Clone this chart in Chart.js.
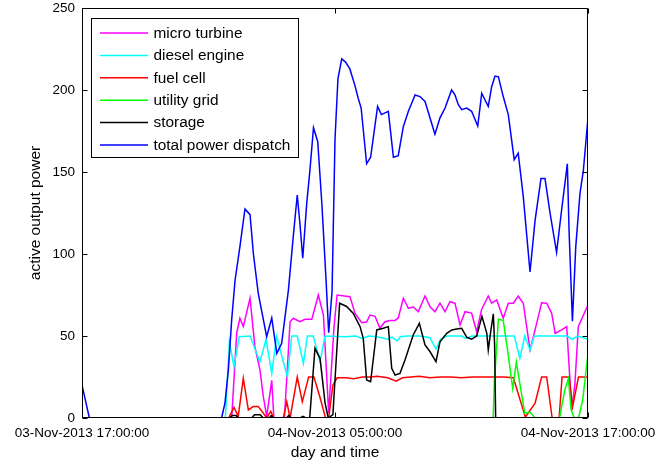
<!DOCTYPE html>
<html>
<head>
<meta charset="utf-8">
<script src="https://cdn.jsdelivr.net/npm/chart.js@4.4.1/dist/chart.umd.min.js"></script>
<style>
  html, body { margin: 0; padding: 0; background: #ffffff; }
  canvas { display: block; }
</style>
</head>
<body>
<canvas id="dispatch" width="663" height="468"></canvas>
<script>
// Hours after 03-Nov-2013 17:00:00 and their printed labels
const timeTicks = [0, 12, 24];
const timeTickLabels = ['03-Nov-2013 17:00:00', '04-Nov-2013 05:00:00', '04-Nov-2013 17:00:00'];
const powerTicks = [0, 50, 100, 150, 200, 250];

const seriesNames = ['micro turbine', 'diesel engine', 'fuel cell', 'utility grid', 'storage', 'total power dispatch'];
const seriesColors = ['#ff00ff', '#00ffff', '#ff0000', '#00ff00', '#000000', '#0000ff'];

// [hour, active output power]
const microTurbine = [
  [0, 0], [7.1, 0], [7.34, 52], [7.49, 60.8], [7.65, 55.7], [7.97, 73], [8.2, 43.5], [8.44, 29.3],
  [8.6, 13], [8.76, 1], [9.0, 23], [9.1, 0], [9.6, 0], [9.87, 58.7], [10.02, 60.8], [10.34, 58.7],
  [10.58, 60.2], [10.9, 60.2], [11.21, 75], [11.45, 62.8], [11.7, 3], [11.95, 55], [12.1, 75],
  [12.71, 74], [12.95, 63.8], [13.27, 58.1], [13.5, 58.5], [13.66, 62.8], [13.9, 62], [14.13, 54.7],
  [14.37, 58.7], [14.61, 59.5], [14.85, 59.5], [15.0, 61], [15.24, 73], [15.48, 66.9], [15.71, 67.8],
  [15.95, 64.8], [16.27, 74.4], [16.51, 67.8], [16.74, 64.8], [16.98, 70], [17.22, 64.8], [17.45, 70.9],
  [17.69, 70], [17.93, 56.7], [18.17, 64.8], [18.48, 64], [18.72, 52.6], [18.95, 66], [19.27, 74.4],
  [19.43, 70], [19.67, 72], [19.98, 60.8], [20.22, 70], [20.46, 70], [20.69, 74.4], [20.93, 70],
  [21.25, 41.5], [21.49, 53.7], [21.8, 70.3], [22.04, 70], [22.28, 63.8], [22.44, 51.6], [22.75, 53.7],
  [22.99, 55.7], [23.23, 4.9], [23.38, 21], [23.54, 55.7], [24, 69]
];

const dieselEngine = [
  [0, 0], [6.8, 0], [6.99, 46.5], [7.21, 31.3], [7.46, 49.6], [7.97, 50], [8.44, 34.3], [8.73, 48],
  [9.0, 27.2], [9.23, 49.6], [9.74, 25.2], [9.95, 50], [10.21, 50], [10.5, 33.3], [10.69, 50],
  [10.97, 50], [11.29, 34.3], [11.53, 50], [12.5, 49.5], [13.0, 50], [13.3, 48.5], [13.6, 50],
  [14.0, 49.5], [14.5, 48], [14.7, 49.5], [14.95, 47], [15.1, 49.5], [15.4, 50], [16.0, 50],
  [16.5, 49], [16.79, 42], [17.0, 48], [17.3, 50], [18.0, 50], [18.2, 48.5], [18.5, 50], [20.5, 50],
  [20.77, 36.4], [21.0, 50], [21.25, 41.5], [21.45, 50], [23.0, 50], [23.25, 48], [23.5, 50], [24, 48]
];

const fuelCell = [
  [0, 0], [6.95, 0], [7.21, 6.5], [7.41, 1], [7.65, 24.2], [7.89, 4.9], [8.12, 7], [8.36, 7],
  [8.6, 3], [8.76, 0], [8.95, 4], [9.1, 0], [9.55, 0], [9.71, 10], [9.87, 0], [10.21, 25],
  [10.45, 10], [10.75, 25], [11.0, 25], [11.3, 12], [11.55, 0], [11.7, 0], [11.9, 20], [12.1, 24.5],
  [12.5, 24.5], [12.9, 24], [13.3, 25], [13.7, 25], [14.0, 25.5], [14.5, 24.5], [14.9, 22.5],
  [15.2, 24.5], [15.6, 25], [16.0, 25.5], [16.5, 24.5], [17.0, 25], [17.5, 25], [18.0, 24.5],
  [18.5, 25], [19.0, 25], [19.5, 25], [20.0, 25], [20.46, 24.5], [21.03, 0.5], [21.49, 9],
  [21.8, 25], [22.04, 25], [22.3, 0], [22.63, 0], [22.77, 25], [23.1, 25], [23.27, 7], [23.55, 25], [24, 25]
];

const utilityGrid = [
  [0, 0], [19.5, 0], [19.56, 22], [19.75, 60.2], [19.98, 59.5], [20.2, 40], [20.43, 18], [20.6, 34],
  [21.0, 3], [21.25, 3.5], [21.5, 0], [22.65, 0], [22.9, 17], [23.07, 24], [23.2, 5], [23.35, 0],
  [23.55, 0], [23.75, 11], [24, 39.5]
];

const storage = [
  [0, 0], [7.0, 0], [7.12, 1.5], [7.3, 1.5], [7.45, 0], [8.05, 0], [8.18, 2], [8.45, 2], [8.6, 0],
  [8.88, 0], [8.97, 1.5], [9.08, 0], [9.7, 0], [9.8, 1.5], [9.92, 0], [10.35, 0], [10.48, 1],
  [10.62, 0], [10.8, 0], [11.05, 42.5], [11.29, 36.4], [11.53, 9], [11.68, 0], [11.9, 2], [12.22, 70],
  [12.55, 68], [12.87, 63.8], [13.19, 55.7], [13.34, 48.6], [13.5, 23.2], [13.69, 22.1], [13.98, 53.7],
  [14.29, 54.7], [14.53, 55.7], [14.69, 30.3], [14.85, 26.2], [15.08, 27.2], [15.32, 35.4], [15.71, 50.6],
  [16.0, 57.7], [16.27, 44.5], [16.51, 40.4], [16.79, 34.3], [16.98, 46.5], [17.3, 51.6], [17.54, 53.7],
  [17.77, 54.2], [18.01, 54.7], [18.25, 49.2], [18.48, 48], [18.72, 50], [18.97, 62], [19.2, 51.6],
  [19.27, 41.5], [19.4, 54], [19.51, 63.5], [19.57, 45], [19.62, 0], [24, 0]
];

const totalDispatch = [
  [0, 20], [0.35, 0], [6.62, 0], [6.78, 9], [6.94, 29], [7.1, 60], [7.26, 84], [7.49, 104.5],
  [7.73, 127.5], [7.97, 124], [8.13, 100], [8.36, 76], [8.76, 49.6], [9.0, 61], [9.24, 39.4],
  [9.47, 45.5], [9.79, 78], [10.02, 110.6], [10.21, 136], [10.34, 118], [10.47, 97.4], [10.66, 131],
  [10.81, 151], [10.98, 177], [11.18, 168.6], [11.38, 130], [11.58, 83], [11.7, 52], [11.86, 77],
  [12.0, 170], [12.14, 207], [12.32, 219], [12.5, 217], [12.7, 213], [12.94, 203], [13.1, 195],
  [13.24, 189], [13.5, 155], [13.69, 159], [14.02, 190], [14.2, 185], [14.53, 187], [14.77, 159],
  [15.0, 160], [15.24, 177.6], [15.48, 187], [15.8, 197], [16.03, 196], [16.27, 193], [16.74, 173],
  [16.98, 183], [17.22, 189], [17.53, 200], [17.69, 197], [17.85, 191], [18.01, 188], [18.25, 189],
  [18.48, 187], [18.77, 178], [18.96, 198], [19.15, 193], [19.27, 190], [19.43, 202], [19.59, 208.5],
  [19.75, 208], [19.98, 196], [20.22, 185], [20.5, 157.5], [20.69, 161.5], [20.93, 135], [21.25, 89],
  [21.49, 120.5], [21.77, 146], [21.96, 146], [22.2, 125], [22.51, 101], [22.75, 127], [23.02, 155],
  [23.1, 115], [23.26, 59], [23.42, 104.5], [23.62, 137], [23.78, 151], [24, 183]
];

const seriesData = [microTurbine, dieselEngine, fuelCell, utilityGrid, storage, totalDispatch];

const FONT = "'Liberation Sans', Arial, Helvetica, sans-serif";
Chart.defaults.font.family = FONT;
Chart.defaults.color = '#000000';

// Box around the axes with inward tick marks on all four sides
const axesFrame = {
  id: 'axesFrame',
  afterDatasetsDraw(chart) {
    const { ctx, chartArea: a, scales: { x, y } } = chart;
    const L = Math.round(a.left) + 0.5, R = Math.round(a.right) - 0.5;
    const T = Math.round(a.top) + 0.5, B = Math.round(a.bottom) - 0.5;
    const len = 5;
    ctx.save();
    ctx.strokeStyle = '#000000';
    ctx.lineWidth = 1;
    ctx.beginPath();
    ctx.rect(L, T, R - L, B - T);
    powerTicks.forEach(v => {
      const py = Math.round(y.getPixelForValue(v)) + 0.5;
      ctx.moveTo(L, py); ctx.lineTo(L + len, py);
      ctx.moveTo(R, py); ctx.lineTo(R - len, py);
    });
    timeTicks.forEach(v => {
      const px = Math.round(x.getPixelForValue(v)) + 0.5;
      ctx.moveTo(px, B); ctx.lineTo(px, B - len);
      ctx.moveTo(px, T); ctx.lineTo(px, T + len);
    });
    ctx.stroke();
    ctx.restore();
  }
};

// Boxed legend placed inside the axes, top-left
const insideLegend = {
  id: 'insideLegend',
  afterDatasetsDraw(chart) {
    const { ctx, chartArea: a } = chart;
    const bx = Math.round(a.left + 9) + 0.5, by = Math.round(a.top + 10) + 0.5;
    const bw = 207, bh = 139, rowGap = 22.4;
    ctx.save();
    ctx.fillStyle = '#ffffff';
    ctx.fillRect(bx, by, bw, bh);
    ctx.strokeStyle = '#000000';
    ctx.lineWidth = 1;
    ctx.strokeRect(bx, by, bw, bh);
    ctx.font = '15.4px ' + FONT;
    ctx.textBaseline = 'middle';
    ctx.textAlign = 'left';
    chart.data.datasets.forEach((ds, i) => {
      const ry = by + 14.5 + i * rowGap;
      ctx.strokeStyle = ds.borderColor;
      ctx.lineWidth = 1.5;
      ctx.beginPath();
      ctx.moveTo(bx + 8.5, ry);
      ctx.lineTo(bx + 56.5, ry);
      ctx.stroke();
      ctx.fillStyle = '#000000';
      ctx.fillText(ds.label, bx + 62, ry + 0.5);
    });
    ctx.restore();
  }
};

const datasets = seriesNames.map((name, i) => ({
  label: name,
  data: seriesData[i].map(([h, v]) => ({ x: h, y: v })),
  borderColor: seriesColors[i],
  backgroundColor: seriesColors[i],
  borderWidth: 1.5,
  pointRadius: 0,
  tension: 0,
  fill: false,
  order: seriesNames.length - i
}));

new Chart(document.getElementById('dispatch'), {
  type: 'line',
  data: { datasets },
  options: {
    responsive: false,
    animation: false,
    events: [],
    layout: { padding: { top: 8, right: 75, bottom: 0, left: 0 } },
    plugins: { legend: { display: false }, tooltip: { enabled: false } },
    scales: {
      x: {
        type: 'linear',
        min: 0,
        max: 24,
        afterBuildTicks: s => { s.ticks = timeTicks.map(v => ({ value: v })); },
        afterFit: s => { s.height = 50; s.paddingLeft = 0; s.paddingRight = 0; },
        grid: { display: false, drawTicks: false },
        border: { display: false },
        ticks: {
          autoSkip: false, maxRotation: 0, minRotation: 0, padding: 7,
          color: '#000000', font: { size: 13.5 },
          callback: (v, idx) => timeTickLabels[idx]
        },
        title: {
          display: true, text: 'day and time', color: '#000000',
          font: { size: 15.5 }, padding: { top: 0, bottom: 6 }
        }
      },
      y: {
        type: 'linear',
        min: 0,
        max: 250,
        afterBuildTicks: s => { s.ticks = powerTicks.map(v => ({ value: v })); },
        afterFit: s => { s.width = 82; s.paddingTop = 0; s.paddingBottom = 0; },
        grid: { display: false, drawTicks: false },
        border: { display: false },
        ticks: { padding: 7, color: '#000000', font: { size: 13.5 } },
        title: {
          display: true, text: 'active output power', color: '#000000',
          font: { size: 15.5 }, padding: { top: 26.7, bottom: 0 }
        }
      }
    }
  },
  plugins: [axesFrame, insideLegend]
});
</script>
</body>
</html>
